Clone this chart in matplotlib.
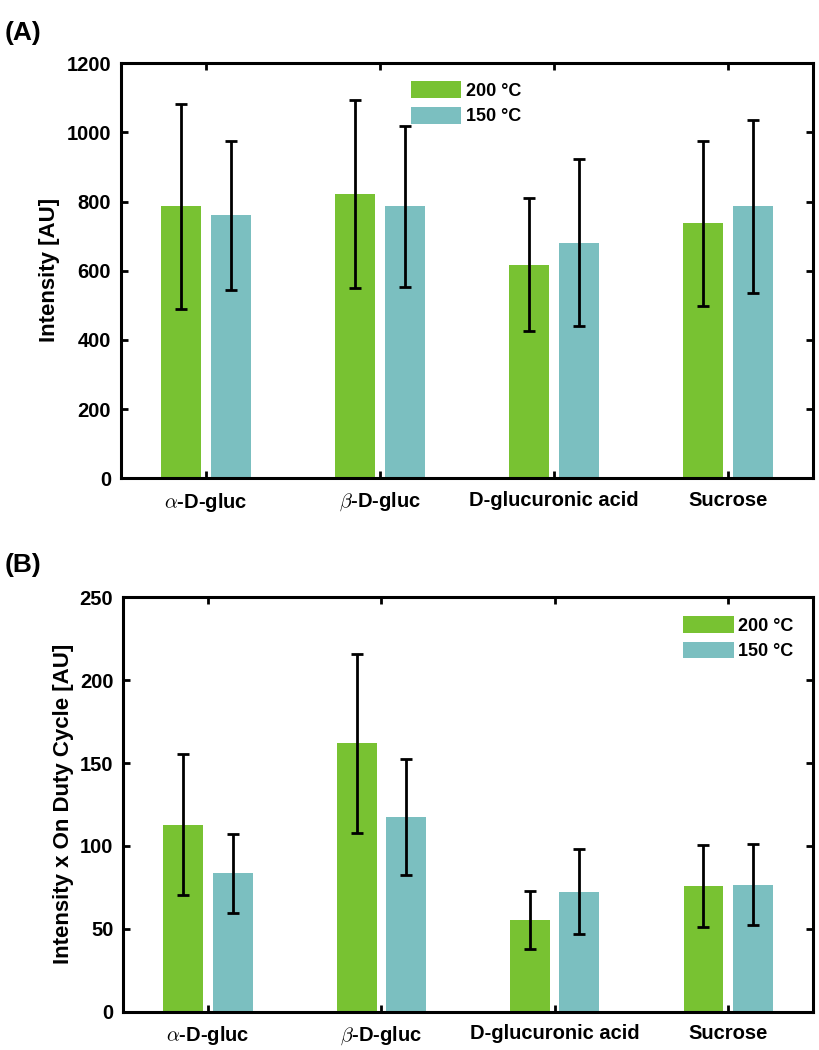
import numpy as np
import matplotlib
matplotlib.use('Agg')
import matplotlib.pyplot as plt

plt.rcParams['font.family'] = ['Liberation Sans', 'DejaVu Sans']
plt.rcParams['font.weight'] = 'bold'
plt.rcParams['mathtext.fontset'] = 'cm'

# donnees
categories = [r'$\alpha$-D-gluc', r'$\beta$-D-gluc', 'D-glucuronic acid', 'Sucrose']
series = ['200 °C', '150 °C']

intensity_200 = [786, 821, 618, 737]
intensity_200_err = [296, 272, 192, 239]
intensity_150 = [760, 786, 681, 786]
intensity_150_err = [215, 233, 241, 250]

duty_200 = [112.7, 162, 55.4, 75.8]
duty_200_err = [42.6, 54, 17.4, 24.7]
duty_150 = [83.5, 117.6, 72.4, 76.6]
duty_150_err = [24, 35, 25.5, 24.4]

vert = '#78C232'
bleu = '#7BBFC0'

fig = plt.figure(figsize=(8.19, 10.5), dpi=100)
axA = fig.add_axes([0.1477, 0.5445, 0.845, 0.3952])
axB = fig.add_axes([0.1502, 0.0365, 0.8425, 0.3946])

def panneau(ax, v200, e200, v150, e150, ymax, ystep):
    x = np.arange(1, len(categories) + 1)
    w = 0.23
    d = 0.142
    ekw = dict(ecolor='black', elinewidth=2, capsize=4, capthick=2)
    ax.bar(x - d, v200, w, color=vert, label=series[0], zorder=1)
    ax.bar(x + d, v150, w, color=bleu, label=series[1], zorder=1)
    ax.errorbar(x - d, v200, yerr=e200, fmt='none', zorder=3, **ekw)
    ax.errorbar(x + d, v150, yerr=e150, fmt='none', zorder=3, **ekw)
    ax.set_xlim(0.51, 4.49)
    ax.set_ylim(0, ymax)
    ax.set_yticks(np.arange(0, ymax + 1, ystep))
    ax.set_xticks(x)
    ax.set_xticklabels(categories)
    ax.tick_params(direction='in', top=True, right=True, length=5, width=2,
                   labelsize=14.5)
    ax.tick_params(axis='x', pad=9)
    ax.tick_params(axis='y', pad=7)
    for s in ax.spines.values():
        s.set_linewidth(2.2)
    for lab in ax.get_xticklabels() + ax.get_yticklabels():
        lab.set_fontweight('bold')

panneau(axA, intensity_200, intensity_200_err, intensity_150, intensity_150_err, 1200, 200)
panneau(axB, duty_200, duty_200_err, duty_150, duty_150_err, 250, 50)

axA.legend(loc='upper left', bbox_to_anchor=(0.419, 0.957), frameon=False,
           borderpad=0, borderaxespad=0, handlelength=2.8, handleheight=1.05,
           handletextpad=0.25, labelspacing=0.4, prop={'size': 13, 'weight': 'bold'})
axB.legend(loc='upper left', bbox_to_anchor=(0.812, 0.955), frameon=False,
           borderpad=0, borderaxespad=0, handlelength=2.8, handleheight=1.05,
           handletextpad=0.25, labelspacing=0.4, prop={'size': 13, 'weight': 'bold'})

fig.text(50 / 819, 1 - 270 / 1050, 'Intensity [AU]', rotation=90, ha='center',
         va='center', fontsize=16, fontweight='bold')
fig.text(64 / 819, 1 - 804 / 1050, 'Intensity x On Duty Cycle [AU]', rotation=90,
         ha='center', va='center', fontsize=16, fontweight='bold')

fig.text(5 / 819, 1 - 33 / 1050, '(A)', ha='left', va='center', fontsize=19, fontweight='bold')
fig.text(5 / 819, 1 - 565 / 1050, '(B)', ha='left', va='center', fontsize=19, fontweight='bold')

fig.savefig('out.png', dpi=100)
